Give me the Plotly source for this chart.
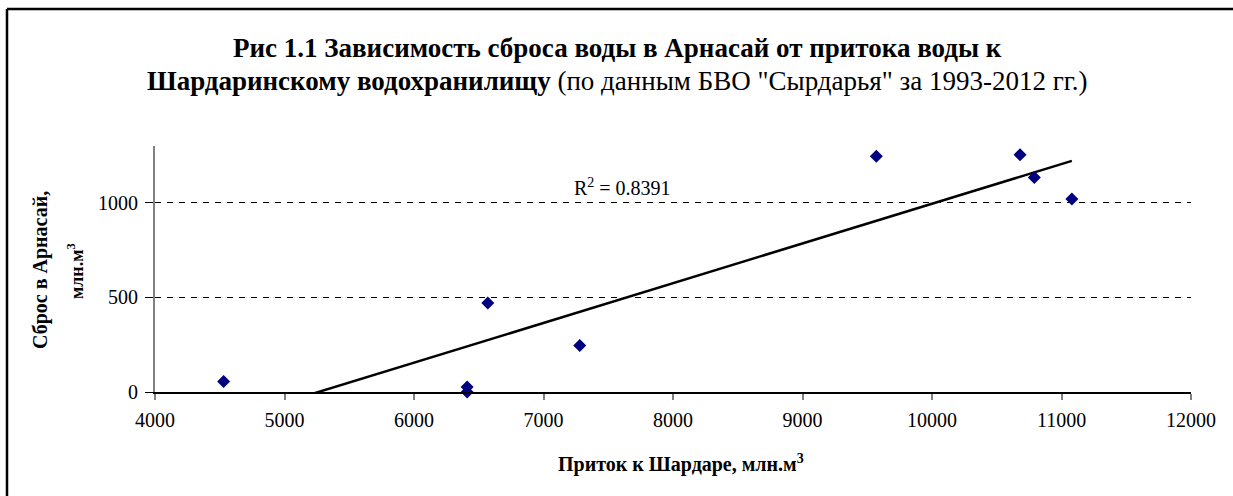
import numpy as np
import plotly.graph_objects as go

# Inflow to Shardara reservoir vs. discharge into Arnasay, mln m3
inflow = [4530, 6410, 6410, 6570, 7280, 9570, 10680, 10790, 11080]
discharge = [55, 27, 0, 470, 246, 1246, 1254, 1133, 1020]
r2_label = "R<sup>2</sup> = 0.8391"

x_ticks = [4000, 5000, 6000, 7000, 8000, 9000, 10000, 11000, 12000]
y_ticks = [0, 500, 1000]

W, H = 1233, 496
ML, MR, MT, MB = 155, 42, 146, 104
PW, PH = W - ML - MR, H - MT - MB


def px(x):
    return (x - ML) / PW


def py(y):
    return (H - MB - y) / PH


FONT = "Liberation Serif, Times New Roman, serif"

# linear trend over the full range of observations
slope, intercept = np.polyfit(inflow, discharge, 1)
tx = np.array([min(inflow), max(inflow)])
ty = slope * tx + intercept

fig = go.Figure()
fig.add_trace(go.Scatter(
    x=tx, y=ty, mode="lines",
    line=dict(color="black", width=2.5),
    hoverinfo="skip", showlegend=False,
))
fig.add_trace(go.Scatter(
    x=inflow, y=discharge, mode="markers",
    marker=dict(symbol="diamond", size=10, color="#000080"),
    cliponaxis=False, showlegend=False,
))

fig.update_layout(
    width=W, height=H,
    margin=dict(l=ML, r=MR, t=MT, b=MB, autoexpand=False),
    paper_bgcolor="white", plot_bgcolor="white",
    font=dict(family=FONT, color="black", size=20),
    showlegend=False,
)

fig.update_xaxes(
    range=[4000, 12000], tickvals=x_ticks, ticktext=[str(v) for v in x_ticks],
    showgrid=False, zeroline=False,
    showline=True, linecolor="black", linewidth=1.5,
    ticks="outside", ticklen=6, tickcolor="#808080", tickwidth=1.5,
    tickfont=dict(family=FONT, size=20), ticklabelstandoff=3,
)
fig.update_yaxes(
    range=[0, 1300], tickvals=y_ticks, ticktext=[str(v) for v in y_ticks],
    showgrid=True, gridcolor="black", gridwidth=1, griddash="6px,6px",
    zeroline=False,
    showline=True, linecolor="#808080", linewidth=2,
    ticks="outside", ticklen=8, tickcolor="black", tickwidth=1,
    tickfont=dict(family=FONT, size=20), ticklabelstandoff=3,
)

annotations = [
    dict(x=px(617), y=py(48),
         text="<b>Рис 1.1 Зависимость сброса воды в Арнасай от притока воды к</b>",
         font=dict(size=27)),
    dict(x=px(617), y=py(81),
         text="<b>Шардаринскому водохранилищу</b> (по данным БВО \"Сырдарья\" за 1993-2012 гг.)",
         font=dict(size=27)),
    dict(x=px(40), y=py(270), text="<b>Сброс в Арнасай,</b>", textangle=-90,
         font=dict(size=20)),
    dict(x=px(75), y=py(271), text="<b>млн.м<sup>3</sup></b>", textangle=-90,
         font=dict(size=18)),
    dict(x=px(681), y=py(463), text="<b>Приток к Шардаре, млн.м<sup>3</sup></b>",
         font=dict(size=20)),
    dict(x=px(622), y=py(187), text=r2_label, font=dict(size=20)),
]
for a in annotations:
    a.update(xref="paper", yref="paper", showarrow=False,
             xanchor="center", yanchor="middle")
fig.update_layout(annotations=annotations)

# outer chart frame (top and left edges fall inside the page)
fig.add_shape(type="line", xref="paper", yref="paper",
              x0=px(7), y0=py(9), x1=px(W), y1=py(9),
              line=dict(color="black", width=2.5))
fig.add_shape(type="line", xref="paper", yref="paper",
              x0=px(7), y0=py(9), x1=px(7), y1=py(H),
              line=dict(color="black", width=2.5))

fig.write_html(
    "out.html",
    config={"displayModeBar": False},
    post_script="document.documentElement.style.overflow='hidden';"
                "document.body.style.overflow='hidden';",
)
